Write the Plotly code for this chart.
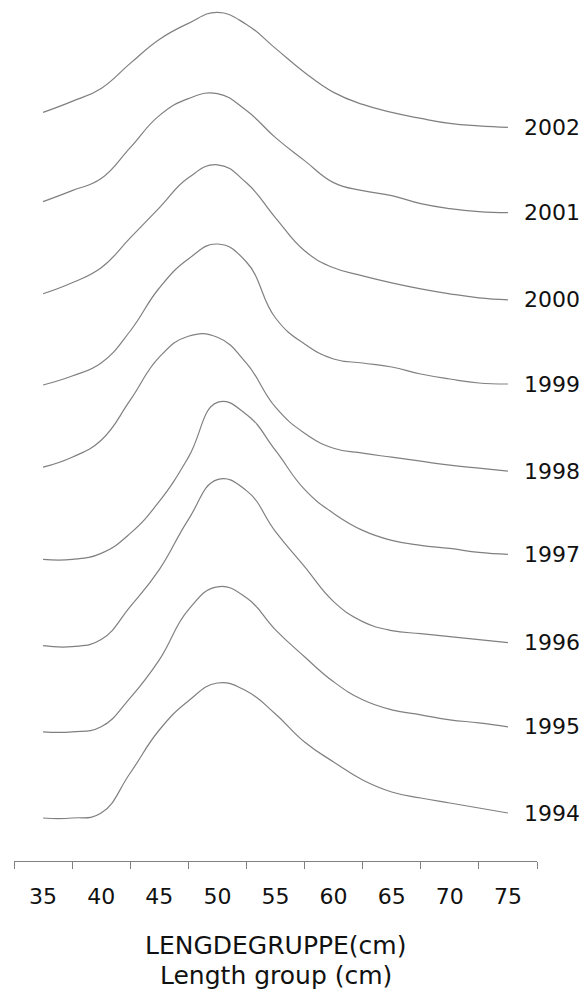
import plotly.graph_objects as go

# Length groups (cm)
length_cm = [35, 37.5, 40, 42.5, 45, 47.5, 50, 52.5, 55, 57.5, 60, 62.5, 65, 67.5, 70, 72.5, 75]

# Relative frequency (arbitrary units)
freq_1994 = [0, 0, 5, 45, 88, 117, 135, 127, 104, 76, 56, 38, 26, 20, 15, 10, 5]
freq_1995 = [0, 0, 5, 34, 72, 122, 145, 134, 102, 75, 50, 32, 22, 17, 12, 9, 5]
freq_1996 = [0, -1, 6, 39, 76, 126, 166, 155, 114, 79, 44, 24, 15, 12, 9, 6, 3]
freq_1997 = [0, 0, 6, 26, 58, 102, 157, 145, 109, 70, 46, 29, 19, 14, 11, 7, 5]
freq_1998 = [6, 16, 33, 73, 116, 137, 136, 110, 66, 40, 25, 20, 16, 12, 8, 5, 2]
freq_1999 = [2, 11, 24, 56, 99, 128, 143, 125, 69, 43, 28, 24, 20, 13, 8, 4, 3]
freq_2000 = [7, 18, 33, 63, 93, 123, 136, 118, 83, 50, 33, 25, 18, 12, 7, 3, 1]
freq_2001 = [13, 24, 36, 67, 99, 116, 121, 104, 77, 54, 32, 24, 19, 11, 6, 3, 2]
freq_2002 = [16, 27, 40, 65, 89, 105, 116, 104, 80, 56, 36, 24, 16, 10, 5, 2.5, 1]

years = [1994, 1995, 1996, 1997, 1998, 1999, 2000, 2001, 2002]
series = [freq_1994, freq_1995, freq_1996, freq_1997, freq_1998,
          freq_1999, freq_2000, freq_2001, freq_2002]

x_tick_labels = [35, 40, 45, 50, 55, 60, 65, 70, 75]
x_boundaries = [32.5, 37.5, 42.5, 47.5, 52.5, 57.5, 62.5, 67.5, 72.5, 77.5]

base_offset = 43.0
step = 86.2
line_color = "#808080"
font_family = "DejaVu Sans, sans-serif"

fig = go.Figure()
for i, (yr, vals) in enumerate(zip(years, series)):
    off = base_offset + step * i
    fig.add_trace(go.Scatter(
        x=length_cm,
        y=[v + off for v in vals],
        mode="lines",
        line=dict(color=line_color, width=1.2, shape="spline", smoothing=1.3),
        hoverinfo="skip",
        showlegend=False,
    ))
    fig.add_annotation(
        x=length_cm[-1], y=vals[-1] + off, xref="x", yref="y",
        text=str(yr), showarrow=False, xanchor="left", yanchor="middle",
        xshift=14, font=dict(family=font_family, size=22, color="#111111"),
    )

fig.add_annotation(x=0.5, y=-0.0985, xref="paper", yref="paper",
                   text="LENGDEGRUPPE(cm)", showarrow=False,
                   xanchor="center", yanchor="middle",
                   font=dict(family=font_family, size=25, color="#111111"))
fig.add_annotation(x=0.5, y=-0.1345, xref="paper", yref="paper",
                   text="Length group (cm)", showarrow=False,
                   xanchor="center", yanchor="middle",
                   font=dict(family=font_family, size=25, color="#111111"))

fig.update_layout(
    width=579, height=988,
    margin=dict(l=6, r=50, t=0, b=135),
    paper_bgcolor="white", plot_bgcolor="white",
    xaxis=dict(
        range=[32.5, 77.5], showgrid=False, zeroline=False,
        showline=True, linecolor=line_color, linewidth=1,
        tickmode="array", tickvals=x_tick_labels,
        ticktext=[str(v) for v in x_tick_labels],
        ticks="", ticklabelstandoff=16,
        tickfont=dict(family=font_family, size=22, color="#111111"),
        minor=dict(tickmode="array", tickvals=x_boundaries, ticks="outside",
                   ticklen=7, tickcolor=line_color, tickwidth=1, showgrid=False),
        automargin=False, fixedrange=True,
    ),
    yaxis=dict(range=[0, 853], visible=False, automargin=False, fixedrange=True),
)

fig.write_html("out.html")
